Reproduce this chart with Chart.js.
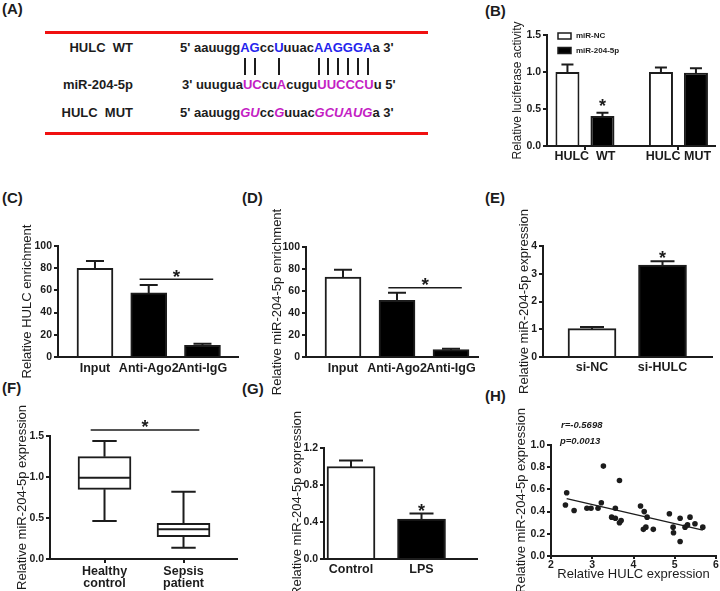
<!DOCTYPE html>
<html><head><meta charset="utf-8"><title>HULC / miR-204-5p</title>
<script src="https://cdn.jsdelivr.net/npm/chart.js@4.4.1/dist/chart.umd.min.js"></script>
<style>
html,body{margin:0;padding:0;background:#fff;}
#root{position:relative;width:720px;height:591px;overflow:hidden;font-family:'Liberation Sans',Arial,Helvetica,sans-serif;color:#1c1c1c;}
canvas{position:absolute;}
.lab{position:absolute;font-weight:bold;font-size:15px;line-height:15px;}
.red{position:absolute;left:45px;width:383px;height:3px;background:#f01010;}
.row{position:absolute;font-weight:bold;font-size:13px;line-height:15px;white-space:pre;}
.name{left:0;width:133px;text-align:right;}
.b{color:#2424ee;}
.m{color:#c41ec4;}
.i{font-style:italic;}
.p{position:relative;display:inline-block;}
.p::after{content:'';position:absolute;left:50%;margin-left:-1px;top:18px;width:2px;height:17px;background:#1c1c1c;}
</style></head>
<body><div id="root">
<div class="lab" style="left:2px;top:1px">(A)</div>
<div class="red" style="top:31px"></div>
<div class="red" style="top:132px"></div>
<div class="row name" style="top:40px">HULC  WT</div>
<div class="row" style="left:180px;top:40px">5' aauugg<span class="b p">A</span><span class="b p">G</span>cc<span class="b p">U</span>uuac<span class="b p">A</span><span class="b p">A</span><span class="b p">G</span><span class="b p">G</span><span class="b p">G</span><span class="b p">A</span>a 3'</div>
<div class="row name" style="top:77px">miR-204-5p</div>
<div class="row" style="left:182px;top:77px">3' uuugua<span class="m">UC</span>cu<span class="m">A</span>cugu<span class="m">UUCCCU</span>u 5'</div>
<div class="row name" style="top:105px">HULC  MUT</div>
<div class="row" style="left:180px;top:105px">5' aauugg<span class="m i">GU</span>cc<span class="m i">G</span>uuac<span class="m i">GCUAUG</span>a 3'</div>
<div class="lab" style="left:485px;top:3px">(B)</div>
<div class="lab" style="left:2px;top:190px">(C)</div>
<div class="lab" style="left:242px;top:190px">(D)</div>
<div class="lab" style="left:485px;top:190px">(E)</div>
<div class="lab" style="left:2px;top:380px">(F)</div>
<div class="lab" style="left:242px;top:381px">(G)</div>
<div class="lab" style="left:485px;top:388px">(H)</div>
</div>
<script>
// ================= DATA =================
// (B) luciferase reporter
const groupsB = ['HULC  WT', 'HULC MUT'];
const seriesB = ['miR-NC', 'miR-204-5p'];
const ncB = [1.00, 1.00];
const ncErrB = [0.10, 0.06];
const mirB = [0.405, 0.99];
const mirErrB = [0.045, 0.06];
const starB = [0.595];          // star level above miR-204-5p bar of HULC WT

// (C) RIP, HULC enrichment
const catsC = ['Input', 'Anti-Ago2', 'Anti-IgG'];
const valsC = [79.8, 57.8, 10.5];
const errC = [6.6, 7.0, 1.5];
const sigC = [1.83, 3.2, 70, 76];   // line from, line to, line level, star level

// (D) RIP, miR-204-5p enrichment
const catsD = ['Input', 'Anti-Ago2', 'Anti-IgG'];
const valsD = [72.7, 51.5, 6.7];
const errD = [6.7, 7.0, 0.9];
const sigD = [1.84, 3.2, 63, 69.8];

// (E) si-HULC
const catsE = ['si-NC', 'si-HULC'];
const valsE = [1.02, 3.31];
const errE = [0.06, 0.14];
const starE = [3.71];

// (F) box plot
const catsF = [['Healthy', 'control'], ['Sepsis', 'patient']];
const lowF = [0.463, 0.138];
const q1F = [0.850, 0.272];
const medF = [0.992, 0.362];
const q3F = [1.248, 0.435];
const highF = [1.439, 0.821];
const sigF = [0.825, 2.20, 1.573, 1.66];

// (G) LPS
const catsG = ['Control', 'LPS'];
const valsG = [1.00, 0.431];
const errG = [0.065, 0.06];
const starG = [0.565];

// (H) correlation
const hulcH = [2.38, 2.35, 2.56, 2.87, 2.97, 3.14, 3.22, 3.27, 3.47, 3.56, 3.56, 3.66, 3.66, 3.70, 4.17, 4.26, 4.24, 4.30, 4.33, 4.48, 4.87, 4.96, 4.97, 5.13, 5.13, 5.25, 5.31, 5.37, 5.49, 5.68];
const mirH  = [0.57, 0.46, 0.41, 0.43, 0.43, 0.43, 0.48, 0.81, 0.35, 0.43, 0.34, 0.68, 0.30, 0.32, 0.45, 0.40, 0.24, 0.26, 0.35, 0.24, 0.38, 0.26, 0.21, 0.34, 0.13, 0.26, 0.28, 0.35, 0.29, 0.26];
const fitXH = [2.38, 5.68];
const fitYH = [0.517, 0.234];
const statsH = ['r=-0.5698', 'p=0.0013'];

// ================= STYLE / HELPERS =================
const FONT = "'Liberation Sans', Arial, Helvetica, sans-serif";
const INK = '#1c1c1c';

const marksPlugin = {
  id: 'marks',
  afterDatasetsDraw(chart, args, o) {
    o = o || {};
    const ctx = chart.ctx, xs = chart.scales.x, ys = chart.scales.y;
    ctx.save();
    ctx.strokeStyle = INK; ctx.fillStyle = INK; ctx.lineCap = 'butt';
    chart.data.datasets.forEach((ds, di) => {
      const meta = chart.getDatasetMeta(di);
      if (ds.errors) {
        meta.data.forEach((el, i) => {
          const e = ds.errors[i]; if (e == null) return;
          const v = ds.data[i].y;
          const y0 = ys.getPixelForValue(v) + 1, y1 = ys.getPixelForValue(v + e);
          const half = el.width / 4;
          ctx.lineWidth = 2;
          ctx.beginPath();
          ctx.moveTo(el.x, y0); ctx.lineTo(el.x, y1);
          ctx.moveTo(el.x - half, y1); ctx.lineTo(el.x + half, y1);
          ctx.stroke();
        });
      }
      if (ds.med) {
        meta.data.forEach((el, i) => {
          const w = el.width, half = w * 0.23;
          const pm = ys.getPixelForValue(ds.med[i]);
          const pq1 = ys.getPixelForValue(ds.data[i].y[0]);
          const pq3 = ys.getPixelForValue(ds.data[i].y[1]);
          const plo = ys.getPixelForValue(ds.lo[i]);
          const phi = ys.getPixelForValue(ds.hi[i]);
          ctx.lineWidth = 2;
          ctx.beginPath();
          ctx.moveTo(el.x - w / 2, pm); ctx.lineTo(el.x + w / 2, pm);
          ctx.moveTo(el.x, pq3); ctx.lineTo(el.x, phi);
          ctx.moveTo(el.x - half, phi); ctx.lineTo(el.x + half, phi);
          ctx.moveTo(el.x, pq1); ctx.lineTo(el.x, plo);
          ctx.moveTo(el.x - half, plo); ctx.lineTo(el.x + half, plo);
          ctx.stroke();
        });
      }
    });
    (o.lines || []).forEach(l => {
      const y = ys.getPixelForValue(l.y);
      ctx.lineWidth = 1.5;
      ctx.beginPath();
      ctx.moveTo(xs.getPixelForValue(l.x1), y); ctx.lineTo(xs.getPixelForValue(l.x2), y);
      ctx.stroke();
    });
    (o.stars || []).forEach(s => {
      const size = s.size || 18;
      const x = s.ds != null ? chart.getDatasetMeta(s.ds).data[s.i].x : xs.getPixelForValue(s.x);
      const y = ys.getPixelForValue(s.y);
      ctx.font = 'bold ' + size + 'px ' + FONT;
      ctx.textAlign = 'center'; ctx.textBaseline = 'alphabetic';
      ctx.fillText('*', x, y + 0.56 * size);
    });
    (o.notes || []).forEach(n => {
      ctx.font = 'italic bold 9.5px ' + FONT;
      ctx.textAlign = 'left'; ctx.textBaseline = 'middle';
      ctx.fillText(n.text, chart.chartArea.left + n.dx, chart.chartArea.top + n.dy);
    });
    if (o.legend) {
      const L = o.legend;
      chart.data.datasets.forEach((ds, i) => {
        const x = chart.chartArea.left + L.dx, y = chart.chartArea.top + L.dy + i * L.gap;
        ctx.fillStyle = ds.backgroundColor; ctx.fillRect(x, y, L.w, L.h);
        ctx.strokeStyle = INK; ctx.lineWidth = 1.5; ctx.strokeRect(x, y, L.w, L.h);
        ctx.fillStyle = INK; ctx.font = 'bold 8px ' + FONT;
        ctx.textAlign = 'left'; ctx.textBaseline = 'middle';
        ctx.fillText(ds.label, x + L.w + 5, y + L.h / 2);
      });
    }
    ctx.restore();
  }
};
Chart.register(marksPlugin);

function place(left, top, w, h) {
  const c = document.createElement('canvas');
  c.width = w; c.height = h;
  c.style.left = left + 'px'; c.style.top = top + 'px';
  c.style.width = w + 'px'; c.style.height = h + 'px';
  document.getElementById('root').appendChild(c);
  return c;
}

function yScale(o) {
  return {
    type: 'linear', position: 'left', min: o.min, max: o.max,
    afterFit: s => { s.width = o.width; },
    border: { display: true, color: INK, width: 2 },
    grid: { display: true, drawOnChartArea: false, drawTicks: true, tickLength: 4, color: INK, lineWidth: 2 },
    ticks: { stepSize: o.step, padding: 2, color: INK, font: { family: FONT, size: 10.5, weight: 'bold' },
      callback: v => (o.dec ? Number(v).toFixed(o.dec) : String(Math.round(v))) },
    title: { display: true, text: o.title, color: INK, padding: 0, font: { family: FONT, size: o.titleSize || 13 } }
  };
}

function xCat(o) {
  return {
    type: 'linear', position: 'bottom', min: o.min, max: o.max, offset: false,
    afterFit: s => { s.height = o.height; },
    afterBuildTicks: s => { s.ticks = o.labels.map((l, i) => ({ value: i + 1 })); },
    border: { display: true, color: INK, width: 2 },
    grid: { display: true, offset: false, drawOnChartArea: false, drawTicks: !!o.ticks, tickLength: 4, color: INK, lineWidth: 2 },
    ticks: { autoSkip: false, maxRotation: 0, minRotation: 0, padding: o.pad, color: INK,
      font: { family: FONT, size: 12.5, weight: 'bold', lineHeight: 1 },
      callback: (v, i) => o.labels[i] }
  };
}

function barSet(vals, errs, fill, thick, label) {
  return {
    label: label,
    data: vals.map((v, i) => ({ x: i + 1, y: v })),
    errors: errs, backgroundColor: fill, borderColor: INK, borderWidth: 2,
    borderSkipped: 'start', barThickness: thick
  };
}

function make(canvas, type, datasets, scales, padding, marks) {
  return new Chart(canvas, {
    type: type,
    data: { datasets: datasets },
    options: {
      responsive: false, animation: false, devicePixelRatio: 1,
      layout: { padding: padding },
      plugins: { legend: { display: false }, tooltip: { enabled: false }, marks: marks },
      scales: scales
    }
  });
}

// ================= (B) =================
{
  const ds = [
    Object.assign(barSet(ncB, ncErrB, '#ffffff', undefined, seriesB[0]), { barThickness: undefined, categoryPercentage: 0.749, barPercentage: 0.686 }),
    Object.assign(barSet(mirB, mirErrB, '#000000', undefined, seriesB[1]), { barThickness: undefined, categoryPercentage: 0.749, barPercentage: 0.686 })
  ];
  make(place(500, 10, 220, 170), 'bar', ds, {
    x: xCat({ min: 0.594, max: 2.391, height: 34, labels: groupsB, ticks: true, pad: 0 }),
    y: yScale({ min: 0, max: 1.5, step: 0.5, dec: 1, width: 36.2, title: 'Relative luciferase activity', titleSize: 12 })
  }, { left: 10.8, top: 25, right: 5, bottom: 0 }, {
    stars: [{ ds: 1, i: 0, y: starB[0] }],
    legend: { dx: 11, dy: -2, gap: 14.5, w: 13, h: 6 }
  });
}

// ================= (C) =================
make(place(0, 215, 243, 165), 'bar', [barSet(valsC, errC, '#ffffff', 36)].map(d => {
  d.backgroundColor = valsC.map((v, i) => i === 0 ? '#ffffff' : '#000000'); return d;
}), {
  x: xCat({ min: 0.312, max: 3.661, height: 23, labels: catsC, ticks: false, pad: 5 }),
  y: yScale({ min: 0, max: 100, step: 20, width: 38.8, title: 'Relative HULC enrichment' })
}, { left: 19.2, top: 31, right: 5, bottom: 0 }, {
  lines: [{ x1: sigC[0], x2: sigC[1], y: sigC[2] }],
  stars: [{ x: (sigC[0] + sigC[1]) / 2, y: sigC[3], size: 19 }]
});

// ================= (D) =================
make(place(262, 200, 220, 200), 'bar', [barSet(valsD, errD, '#ffffff', 36)].map(d => {
  d.backgroundColor = valsD.map((v, i) => i === 0 ? '#ffffff' : '#000000'); return d;
}), {
  x: xCat({ min: 0.315, max: 3.50, height: 43, labels: catsD, ticks: false, pad: 5 }),
  y: yScale({ min: 0, max: 100, step: 20, width: 36.8, title: 'Relative miR-204-5p enrichment' })
}, { left: 7.2, top: 47, right: 4, bottom: 0 }, {
  lines: [{ x1: sigD[0], x2: sigD[1], y: sigD[2] }],
  stars: [{ x: (sigD[0] + sigD[1]) / 2, y: sigD[3], size: 19 }]
});

// ================= (E) =================
make(place(505, 200, 215, 200), 'bar', [barSet(valsE, errE, '#ffffff', 48)].map(d => {
  d.backgroundColor = valsE.map((v, i) => i === 0 ? '#ffffff' : '#000000'); return d;
}), {
  x: xCat({ min: 0.305, max: 2.702, height: 43, labels: catsE, ticks: false, pad: 4 }),
  y: yScale({ min: 0, max: 4, step: 1, width: 26.8, title: 'Relative miR-204-5p expression' })
}, { left: 11.2, top: 46, right: 8, bottom: 0 }, {
  stars: [{ ds: 0, i: 1, y: starE[0] }]
});

// ================= (F) =================
make(place(0, 395, 242, 196), 'bar', [{
  data: q1F.map((q, i) => ({ x: i + 1, y: [q, q3F[i]] })),
  lo: lowF, med: medF, hi: highF,
  backgroundColor: '#ffffff', borderColor: INK, borderWidth: 2, borderSkipped: false, barThickness: 53
}], {
  x: xCat({ min: 0.31, max: 2.677, height: 32, labels: catsF, ticks: true, pad: 2 }),
  y: yScale({ min: 0, max: 1.5, step: 0.5, dec: 1, width: 35.3, title: 'Relative miR-204-5p expression' })
}, { left: 14.7, top: 41, right: 5, bottom: 0 }, {
  lines: [{ x1: sigF[0], x2: sigF[1], y: sigF[2] }],
  stars: [{ x: (sigF[0] + sigF[1]) / 2, y: sigF[3] }]
});

// ================= (G) =================
make(place(262, 395, 220, 196), 'bar', [barSet(valsG, errG, '#ffffff', 48)].map(d => {
  d.backgroundColor = valsG.map((v, i) => i === 0 ? '#ffffff' : '#000000'); return d;
}), {
  x: xCat({ min: 0.617, max: 2.787, height: 32, labels: catsG, ticks: false, pad: 4 }),
  y: yScale({ min: 0, max: 1.2, step: 0.4, dec: 1, width: 34.8, title: 'Relative miR-204-5p expression' })
}, { left: 27.2, top: 53, right: 5, bottom: 0 }, {
  stars: [{ ds: 0, i: 1, y: starG[0] }]
});

// ================= (H) =================
make(place(500, 395, 220, 196), 'scatter', [
  { data: hulcH.map((x, i) => ({ x: x, y: mirH[i] })), backgroundColor: INK, borderColor: INK, borderWidth: 0, pointRadius: 2.8 },
  { type: 'line', data: fitXH.map((x, i) => ({ x: x, y: fitYH[i] })), borderColor: INK, borderWidth: 1.3, pointRadius: 0, fill: false }
], {
  x: {
    type: 'linear', min: 2, max: 6,
    afterFit: s => { s.height = 26; },
    border: { display: true, color: INK, width: 2 },
    grid: { display: true, drawOnChartArea: false, drawTicks: true, tickLength: 3, color: INK, lineWidth: 2 },
    ticks: { stepSize: 1, padding: 0.5, color: INK, font: { family: FONT, size: 10.5, weight: 'bold', lineHeight: 1 } },
    title: { display: true, text: 'Relative HULC expression', color: INK, padding: 0, font: { family: FONT, size: 13 } }
  },
  y: yScale({ min: 0, max: 1, step: 0.2, dec: 1, width: 37.8, title: 'Relative miR-204-5p expression' })
}, { left: 13.2, top: 50, right: 3, bottom: 9 }, {
  notes: [{ text: statsH[0], dx: 10, dy: -20 }, { text: statsH[1], dx: 9, dy: -4 }]
});
</script>
</body></html>
